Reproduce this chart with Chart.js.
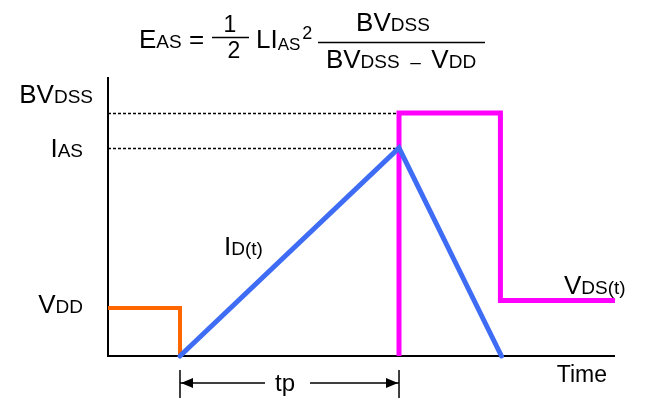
<!DOCTYPE html>
<html>
<head>
<meta charset="utf-8">
<script src="https://cdn.jsdelivr.net/npm/chart.js@4.4.1/dist/chart.umd.min.js"></script>
<style>
  html, body { margin: 0; padding: 0; background: #fff; }
  #wrap { width: 646px; height: 399px; }
</style>
</head>
<body>
<div id="wrap"><canvas id="chart" width="646" height="399"></canvas></div>
<script>
// Waveform data (time axis 0..100, level axis 0..100)
const vddX = [0, 14.2, 14.2];
const vddY = [17.2, 17.2, 0];
const idX = [14.2, 57.4, 77.6];
const idY = [0, 74.6, 0];
const vdsX = [57.4, 57.4, 77.4, 77.4, 100];
const vdsY = [0, 87.1, 87.1, 19.9, 19.9];

// reference levels shown on the vertical axis
const levelNames = ['BVDSS', 'IAS', 'VDD'];
const levelValues = [87.1, 74.6, 17.2];

// tp span on the time axis
const tpStart = 14.2;
const tpEnd = 57.4;

const FONT = '"Liberation Sans", Arial, sans-serif';
const BIG = 26;
const SMALL = 19;

function pts(xs, ys) {
  return xs.map((x, i) => ({ x: x, y: ys[i] }));
}

// draw a row of text runs, each {t, s, dy}
function runWidth(ctx, runs) {
  let w = 0;
  runs.forEach(r => {
    ctx.font = r.s + 'px ' + FONT;
    w += ctx.measureText(r.t).width;
  });
  return w;
}
function drawRuns(ctx, x, y, runs, align) {
  const w = runWidth(ctx, runs);
  if (align === 'right') x -= w;
  else if (align === 'center') x -= w / 2;
  ctx.textAlign = 'left';
  ctx.textBaseline = 'alphabetic';
  runs.forEach(r => {
    ctx.font = r.s + 'px ' + FONT;
    ctx.fillText(r.t, x + (r.dx || 0), y + (r.dy || 0));
    x += ctx.measureText(r.t).width + (r.dx || 0);
  });
  return x;
}

const axesPlugin = {
  id: 'axes',
  beforeDatasetsDraw(chart) {
    const ctx = chart.ctx;
    const a = chart.chartArea;
    const xs = chart.scales.x, ys = chart.scales.y;
    ctx.save();
    ctx.strokeStyle = '#000';
    ctx.lineWidth = 2;
    ctx.beginPath();
    ctx.moveTo(a.left, a.top);
    ctx.lineTo(a.left, a.bottom);
    ctx.lineTo(a.right, a.bottom);
    ctx.stroke();

    // dotted guides to BVDSS and IAS
    ctx.lineWidth = 1.5;
    ctx.setLineDash([3, 2]);
    [levelValues[0], levelValues[1]].forEach(v => {
      const y = Math.round(ys.getPixelForValue(v)) + 0.5;
      ctx.beginPath();
      ctx.moveTo(a.left, y);
      ctx.lineTo(xs.getPixelForValue(tpEnd), y);
      ctx.stroke();
    });
    ctx.restore();
  }
};

const labelsPlugin = {
  id: 'labels',
  afterDraw(chart) {
    const ctx = chart.ctx;
    const a = chart.chartArea;
    const xs = chart.scales.x, ys = chart.scales.y;
    ctx.save();
    ctx.fillStyle = '#000';
    ctx.strokeStyle = '#000';

    // level labels
    drawRuns(ctx, 93, ys.getPixelForValue(levelValues[0]) - 10,
      [{ t: 'BV', s: BIG }, { t: 'DSS', s: SMALL }], 'right');
    drawRuns(ctx, 83, ys.getPixelForValue(levelValues[1]) + 9,
      [{ t: 'I', s: BIG }, { t: 'AS', s: SMALL }], 'right');
    drawRuns(ctx, 83, ys.getPixelForValue(levelValues[2]) + 5,
      [{ t: 'V', s: BIG }, { t: 'DD', s: SMALL }], 'right');

    // waveform labels
    drawRuns(ctx, 224, 255, [{ t: 'I', s: BIG }, { t: 'D(t)', s: SMALL }], 'left');
    drawRuns(ctx, 564, 294, [{ t: 'V', s: BIG }, { t: 'DS(t)', s: SMALL }], 'left');
    drawRuns(ctx, 607, a.bottom + 26, [{ t: 'Time', s: 23 }], 'right');

    // tp dimension
    const x0 = xs.getPixelForValue(tpStart);
    const x1 = xs.getPixelForValue(tpEnd);
    const ay = a.bottom + 27;
    ctx.lineWidth = 1.5;
    ctx.beginPath();
    ctx.moveTo(x0, a.bottom + 14); ctx.lineTo(x0, a.bottom + 42);
    ctx.moveTo(x1, a.bottom + 14); ctx.lineTo(x1, a.bottom + 42);
    ctx.moveTo(x0, ay); ctx.lineTo(265, ay);
    ctx.moveTo(310, ay); ctx.lineTo(x1, ay);
    ctx.stroke();
    ctx.beginPath();
    ctx.moveTo(x0 + 1, ay); ctx.lineTo(x0 + 13, ay - 5); ctx.lineTo(x0 + 13, ay + 5); ctx.closePath();
    ctx.moveTo(x1 - 1, ay); ctx.lineTo(x1 - 13, ay - 5); ctx.lineTo(x1 - 13, ay + 5); ctx.closePath();
    ctx.fill();
    drawRuns(ctx, 285, ay + 8, [{ t: 'tp', s: 24 }], 'center');

    // formula
    drawRuns(ctx, 139, 48, [{ t: 'E', s: BIG }, { t: 'AS', s: SMALL }, { t: ' =', s: BIG }], 'left');
    ctx.lineWidth = 1.5;
    ctx.beginPath();
    ctx.moveTo(212, 37.5); ctx.lineTo(249, 37.5);
    ctx.stroke();
    drawRuns(ctx, 230, 32, [{ t: '1', s: 23 }], 'center');
    drawRuns(ctx, 234, 58, [{ t: '2', s: 23 }], 'center');
    drawRuns(ctx, 256, 48, [{ t: 'LI', s: BIG }, { t: 'AS', s: 17, dy: 2 }, { t: '2', s: 18, dy: -9, dx: 2 }], 'left');
    ctx.beginPath();
    ctx.moveTo(318, 42.5); ctx.lineTo(485, 42.5);
    ctx.stroke();
    drawRuns(ctx, 393, 31, [{ t: 'BV', s: BIG }, { t: 'DSS', s: SMALL }], 'center');
    drawRuns(ctx, 401, 68, [{ t: 'BV', s: BIG }, { t: 'DSS', s: SMALL }, { t: '  –  ', s: SMALL },
      { t: 'V', s: BIG }, { t: 'DD', s: SMALL }], 'center');
    ctx.restore();
  }
};

new Chart(document.getElementById('chart'), {
  type: 'line',
  data: {
    datasets: [
      {
        label: 'ID(t)',
        data: pts(idX, idY),
        borderColor: '#3F6CF4',
        borderWidth: 5,
        borderCapStyle: 'round',
        borderJoinStyle: 'miter',
        order: 0
      },
      {
        label: 'VDS(t)',
        data: pts(vdsX, vdsY),
        borderColor: '#FF00FF',
        borderWidth: 5,
        borderJoinStyle: 'miter',
        order: 1
      },
      {
        label: 'VDD',
        data: pts(vddX, vddY),
        borderColor: '#FF6600',
        borderWidth: 4,
        borderJoinStyle: 'miter',
        order: 2
      }
    ]
  },
  options: {
    responsive: false,
    animation: false,
    events: [],
    layout: { padding: { left: 108, right: 31, top: 77, bottom: 43 } },
    elements: { point: { radius: 0 }, line: { tension: 0, fill: false } },
    datasets: { line: { clip: false } },
    plugins: { legend: { display: false }, tooltip: { enabled: false } },
    scales: {
      x: { type: 'linear', min: 0, max: 100, display: false },
      y: { type: 'linear', min: 0, max: 100, display: false }
    }
  },
  plugins: [axesPlugin, labelsPlugin]
});
</script>
</body>
</html>
